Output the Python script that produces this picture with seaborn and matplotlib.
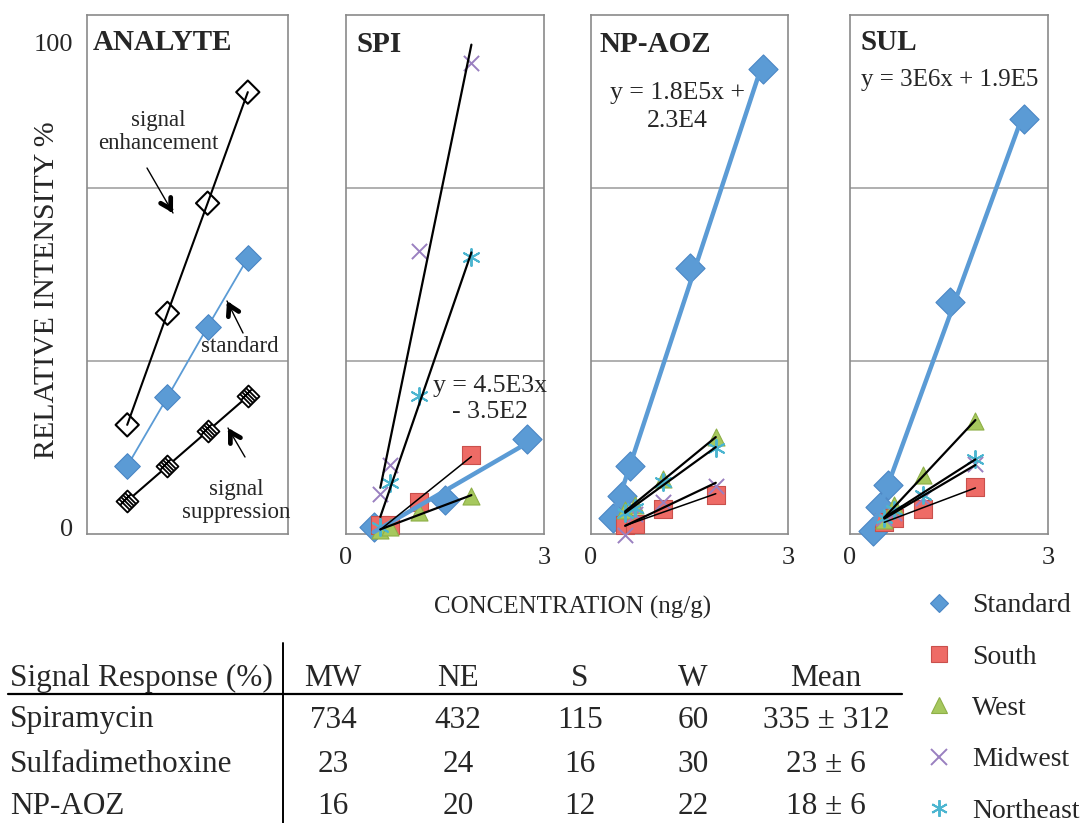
import numpy as np
import pandas as pd
import matplotlib
matplotlib.use("Agg")
import matplotlib.pyplot as plt
from matplotlib.path import Path
from matplotlib.lines import Line2D
import seaborn as sns

# ---------------- data ----------------
analyte_x = [0.6, 1.2, 1.8, 2.4]
enhancement = [21.1, 44.1, 66.8, 89.7]
standard_demo = [12.6, 26.8, 41.3, 55.5]
suppression = [5.4, 12.6, 19.8, 27.0]

sample_x = [0.52, 0.67, 1.1, 1.9]

spi_std_x = [0.42, 1.5, 2.74]
spi_std_y = [0.0, 5.6, 18.2]
spi_south = [0.45, 0.45, 5.2, 14.9]
spi_west = [-0.5, 0.0, 3.1, 6.4]
spi_midwest = [6.8, 12.8, 56.9, 95.7]
spi_northeast = [0.0, 9.2, 27.0, 55.7]

aoz_std_x = [0.34, 0.47, 0.59, 1.51, 2.62]
aoz_std_y = [1.9, 6.4, 12.6, 53.5, 94.4]
aoz_south = [0.4, 0.6, 3.7, 6.7]
aoz_west = [3.5, 4.5, 10.0, 18.5]
aoz_midwest = [-1.7, 2.7, 5.2, 8.5]
aoz_northeast = [3.0, 4.0, 9.3, 16.3]

sul_std_x = [0.35, 0.45, 0.58, 1.52, 2.63]
sul_std_y = [-0.7, 4.1, 8.6, 46.5, 84.1]
sul_south = [1.0, 2.0, 3.7, 8.2]
sul_west = [1.5, 4.5, 10.8, 21.9]
sul_midwest = [2.0, 3.0, 6.0, 13.0]
sul_northeast = [2.0, 3.5, 6.7, 14.1]

panel_titles = ["ANALYTE", "SPI", "NP-AOZ", "SUL"]
equations = ["y = 4.5E3x\n- 3.5E2", "y = 1.8E5x +\n2.3E4", "y = 3E6x + 1.9E5"]
legend_labels = ["Standard", "South", "West", "Midwest", "Northeast"]

table_header = "Signal Response (%)"
table_cols = ["MW", "NE", "S", "W", "Mean"]
table_rows = ["Spiramycin", "Sulfadimethoxine", "NP-AOZ"]
spiramycin_vals = ["734", "432", "115", "60", "335 ± 312"]
sulfa_vals = ["23", "24", "16", "30", "23 ± 6"]
npaoz_vals = ["16", "20", "12", "22", "18 ± 6"]

# ---------------- style ----------------
sns.set_theme(style="white")
plt.rcParams["font.family"] = ["Liberation Serif", "DejaVu Serif"]

W, H = 1088, 823
fig = plt.figure(figsize=(W / 100, H / 100), dpi=100)

def fx(px):
    return px / W

def fy(py):
    return 1 - py / H

YLIM = (-1.4, 105.6)
TOP, BOT = 15, 534
lefts = [87, 346, 591, 850]
rights = [288, 544, 788, 1048]
axes = []
for l, r in zip(lefts, rights):
    ax = fig.add_axes([fx(l), fy(BOT), (r - l) / W, (BOT - TOP) / H])
    axes.append(ax)

BLUE = "#5B9BD5"
BLUE_E = "#4A86C5"
RED = "#EE6B66"
RED_E = "#C9504C"
GREEN = "#A6C85E"
GREEN_E = "#8EAF47"
PURPLE = "#9A80C0"
CYAN = "#4BB5D0"
GRID = "#9a9a9a"

for ax in axes:
    ax.set_xlim(0, 3)
    ax.set_ylim(*YLIM)
    span = YLIM[1] - YLIM[0]
    for k in (1, 2):
        ax.axhline(YLIM[0] + k * span / 3, color=GRID, lw=1.1, zorder=0)
    for s in ax.spines.values():
        s.set_color("#8a8a8a")
        s.set_linewidth(1.2)
    ax.set_facecolor("white")

# hatched diamond marker
def hatched_diamond():
    verts = [(0, 1), (1, 0), (0, -1), (-1, 0), (0, 1)]
    codes = [Path.MOVETO, Path.LINETO, Path.LINETO, Path.LINETO, Path.CLOSEPOLY]
    def m(u, v):
        return ((u + v) / 2, (v - u) / 2)
    for c in (-0.55, -0.18, 0.18, 0.55):
        verts += [m(-1, c), m(1, c)]
        codes += [Path.MOVETO, Path.LINETO]
    verts += [m(-0.35, -1), m(-0.35, 1)]
    codes += [Path.MOVETO, Path.LINETO]
    return Path(verts, codes)

HD = hatched_diamond()

# ---------------- panel 1 ----------------
ax = axes[0]
sns.lineplot(x=analyte_x, y=enhancement, ax=ax, color="black", lw=1.5, zorder=2)
sns.lineplot(x=analyte_x, y=standard_demo, ax=ax, color=BLUE, lw=1.3, zorder=2)
sns.lineplot(x=analyte_x, y=suppression, ax=ax, color="black", lw=1.5, zorder=2)
sns.scatterplot(x=analyte_x, y=enhancement, ax=ax, marker="D", s=140,
                facecolor="none", edgecolor="black", linewidth=1.5, zorder=3)
sns.scatterplot(x=analyte_x, y=standard_demo, ax=ax, marker="D", s=170,
                color=BLUE, edgecolor=BLUE_E, linewidth=0.8, zorder=3)
sns.scatterplot(x=analyte_x, y=suppression, ax=ax, marker=HD, s=250,
                facecolor="white", edgecolor="black", linewidth=1.3, zorder=3)

# ---------------- panels 2-4 ----------------
panel_data = [
    (spi_std_x, spi_std_y, spi_south, spi_west, spi_midwest, spi_northeast),
    (aoz_std_x, aoz_std_y, aoz_south, aoz_west, aoz_midwest, aoz_northeast),
    (sul_std_x, sul_std_y, sul_south, sul_west, sul_midwest, sul_northeast),
]
for ax, (sx, sy, south, west, mw, ne) in zip(axes[1:], panel_data):
    sns.scatterplot(x=sx, y=sy, ax=ax, marker="D", s=220, color=BLUE,
                    edgecolor=BLUE_E, linewidth=0.8, zorder=3, clip_on=False)
    sns.scatterplot(x=sample_x, y=south, ax=ax, marker="s", s=150, color=RED,
                    edgecolor=RED_E, linewidth=0.8, zorder=3, clip_on=False)
    sns.scatterplot(x=sample_x, y=west, ax=ax, marker="^", s=150, color=GREEN,
                    edgecolor=GREEN_E, linewidth=0.8, zorder=3, clip_on=False)
    sns.scatterplot(x=sample_x, y=mw, ax=ax, marker="x", s=120, color=PURPLE,
                    linewidth=1.4, zorder=3, clip_on=False)
    sns.scatterplot(x=sample_x, y=ne, ax=ax, marker=(6, 2, 0), s=150, color=CYAN,
                    edgecolor=CYAN, linewidth=1.4, zorder=3, clip_on=False)
    sns.regplot(x=np.array(sx), y=np.array(sy), ax=ax, scatter=False, ci=None,
                truncate=True, color=BLUE, line_kws=dict(lw=3.2, zorder=4))
    for vals, lw in ((south, 1.1), (west, 1.6), (mw, 1.6), (ne, 1.6)):
        sns.regplot(x=np.array(sample_x), y=np.array(vals), ax=ax, scatter=False,
                    ci=None, truncate=True, color="black",
                    line_kws=dict(lw=lw, zorder=5))

for ax in axes:
    ax.set_xlim(0, 3)
    ax.set_ylim(*YLIM)
    ax.set_xlabel("")
    ax.set_ylabel("")

axes[0].set_xticks([])
axes[0].set_yticks([0, 100])
axes[0].set_yticklabels(["0", "100"], fontsize=19)
axes[0].tick_params(axis="y", length=0, pad=10)
for ax in axes[1:]:
    ax.set_yticks([])
    ax.set_xticks([0, 3])
    ax.set_xticklabels(["0", "3"], fontsize=19)
    ax.tick_params(axis="x", length=0, pad=9)

# titles
title_pos = [(93, 42), (356, 45), (600, 45), (860, 42)]
for t, (px, py) in zip(panel_titles, title_pos):
    fig.text(fx(px), fy(py), t, fontsize=21, fontweight="bold",
             ha="left", va="center")

# equations
fig.text(fx(490), fy(399), equations[0], fontsize=18.5, ha="center", va="center",
         linespacing=1.25)
fig.text(fx(677), fy(107), equations[1], fontsize=18.5, ha="center", va="center",
         linespacing=1.3)
fig.text(fx(950), fy(80), equations[2], fontsize=18, ha="center", va="center")

# panel 1 annotations
fig.text(fx(158), fy(132), "signal\nenhancement", fontsize=16.5, ha="center",
         va="center", linespacing=1.1)
fig.text(fx(240), fy(347), "standard", fontsize=16.5, ha="center", va="center")
fig.text(fx(236), fy(501), "signal\nsuppression", fontsize=16.5, ha="center",
         va="center", linespacing=1.1)

def arrow(tail, tip):
    t = np.array(tail, float)
    p = np.array(tip, float)
    d = (p - t) / np.linalg.norm(p - t)
    fig.add_artist(Line2D([fx(t[0]), fx(p[0])], [fy(t[1]), fy(p[1])],
                          color="black", lw=1.0, transform=fig.transFigure))
    back = p - d * 6
    ann = axes[0].annotate("", xy=(fx(p[0]), fy(p[1])), xycoords="figure fraction",
                           xytext=(fx(back[0]), fy(back[1])),
                           textcoords="figure fraction",
                           arrowprops=dict(arrowstyle="->,head_length=0.6,head_width=0.35",
                                           lw=3.4, color="black",
                                           shrinkA=0, shrinkB=0))
    ann.set_clip_on(False)

arrow((147, 168), (173, 213))
arrow((243, 333), (227, 301))
arrow((245, 457), (228, 428))

# axis labels
fig.text(fx(47), fy(290), "RELATIVE INTENSITY %", fontsize=21.5, rotation=90,
         ha="center", va="center")
fig.text(fx(573), fy(607), "CONCENTRATION (ng/g)", fontsize=18, ha="center",
         va="center")

# legend
handles = [
    Line2D([], [], ls="", marker="D", ms=9, mfc=BLUE, mec=BLUE_E, mew=0.8),
    Line2D([], [], ls="", marker="s", ms=11, mfc=RED, mec=RED_E, mew=0.8),
    Line2D([], [], ls="", marker="^", ms=11, mfc=GREEN, mec=GREEN_E, mew=0.8),
    Line2D([], [], ls="", marker="x", ms=11, mec=PURPLE, mew=1.4),
    Line2D([], [], ls="", marker=(6, 2, 0), ms=12, mec=CYAN, mew=1.4),
]
fig.legend(handles, legend_labels, loc="upper left",
           bbox_to_anchor=(fx(922), fy(593)), frameon=False, fontsize=20,
           handlelength=1.2, handletextpad=0.6, labelspacing=0.93,
           borderaxespad=0, borderpad=0)

# table
col_x = [333, 458, 580, 693, 826]
row_y = [720, 764, 806]
fig.text(fx(10), fy(678), table_header, fontsize=22.5, ha="left", va="center")
for c, px in zip(table_cols, col_x):
    fig.text(fx(px), fy(678), c, fontsize=22.5, ha="center", va="center")
for name, vals, py in zip(table_rows, [spiramycin_vals, sulfa_vals, npaoz_vals], row_y):
    fig.text(fx(10), fy(py), name, fontsize=22.5, ha="left", va="center")
    for v, px in zip(vals, col_x):
        fig.text(fx(px), fy(py), v, fontsize=22.5, ha="center", va="center")
fig.add_artist(Line2D([fx(8), fx(902)], [fy(694), fy(694)], color="black", lw=1.6,
                      transform=fig.transFigure))
fig.add_artist(Line2D([fx(283), fx(283)], [fy(643), fy(823)], color="black", lw=1.4,
                      transform=fig.transFigure))

fig.savefig("out.png", dpi=100)
